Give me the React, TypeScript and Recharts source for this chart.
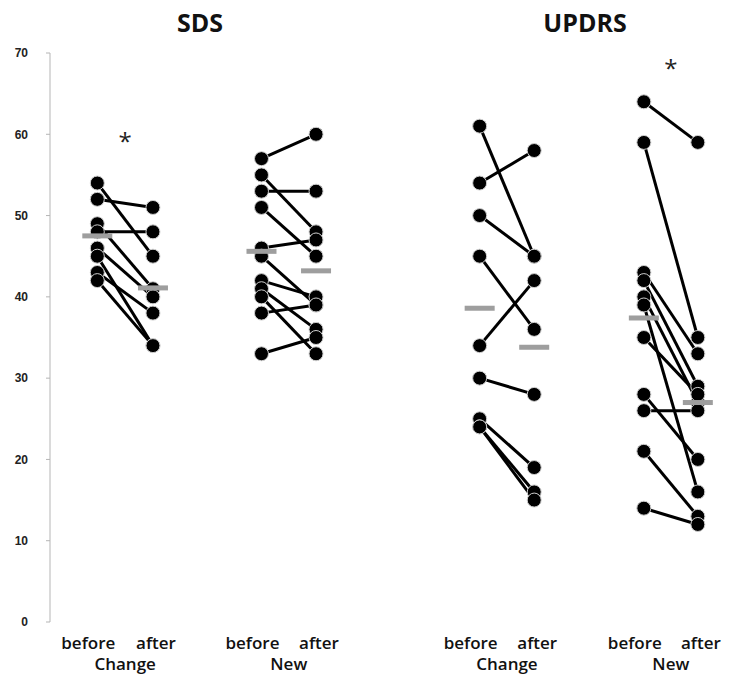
import { ComposedChart, Line, Scatter, XAxis, YAxis } from 'recharts';

// column slots (x axis units) of the before / after points in each group
const BEFORE_X = [0.85, 3.8, 7.72, 10.67];
const AFTER_X = [1.85, 4.78, 8.7, 11.64];
const GROUP_NAMES = ['Change', 'New', 'Change', 'New'];
const Y_TICKS = [0, 10, 20, 30, 40, 50, 60, 70];

const sdsChangeBefore = [54, 52, 49, 48, 46, 45, 43, 42];
const sdsChangeAfter = [45, 51, 41, 48, 40, 34, 38, 34];
const sdsNewBefore = [57, 55, 53, 51, 46, 45, 42, 41, 40, 38, 33];
const sdsNewAfter = [60, 48, 53, 45, 47, 39, 40, 36, 33, 39, 35];
const updrsChangeBefore = [61, 54, 50, 45, 34, 30, 25, 24, 24];
const updrsChangeAfter = [45, 58, 45, 36, 42, 28, 19, 16, 15];
const updrsNewBefore = [64, 59, 43, 42, 40, 39, 35, 28, 26, 21, 14];
const updrsNewAfter = [59, 35, 33, 29, 27, 16, 28, 20, 26, 13, 12];

const meanBefore = [47.5, 45.6, 38.6, 37.4];
const meanAfter = [41.1, 43.2, 33.8, 27.0];

// significant groups and the height of their asterisk
const starGroups = [0, 3];
const starY = [59.7, 68.6];

const groups = [
  { before: sdsChangeBefore, after: sdsChangeAfter },
  { before: sdsNewBefore, after: sdsNewAfter },
  { before: updrsChangeBefore, after: updrsChangeAfter },
  { before: updrsNewBefore, after: updrsNewAfter },
];

const pairs = groups.flatMap((g, gi) =>
  g.before.map((b, i) => [
    { x: BEFORE_X[gi], y: b },
    { x: AFTER_X[gi], y: g.after[i] },
  ])
);

const means = [
  ...meanBefore.map((y, i) => ({ x: BEFORE_X[i], y })),
  ...meanAfter.map((y, i) => ({ x: AFTER_X[i], y })),
];

const stars = starGroups.map((g, i) => ({ x: (BEFORE_X[g] + AFTER_X[g]) / 2, y: starY[i] }));

const groupTicks = BEFORE_X.map((b, i) => (b + AFTER_X[i]) / 2);
const allTicks = [...BEFORE_X, ...AFTER_X, ...groupTicks].sort((a, b) => a - b);

const font = '"Open Sans", sans-serif';

const MeanBar = (props: any) => (
  <rect x={props.cx - 15} y={props.cy - 2.5} width={30} height={5} fill="#9e9e9e" />
);

const Star = (props: any) => (
  <text x={props.cx} y={props.cy + 13} textAnchor="middle" fontSize={24} fontFamily={font} fill="#222">
    *
  </text>
);

// one axis carries both rows: before/after under the points, group name under each pair
const XTick = (props: any) => {
  const v = props.payload.value;
  const gi = groupTicks.indexOf(v);
  let label = GROUP_NAMES[gi];
  let dx = 0;
  let y = props.y + 46;
  if (gi < 0) {
    const isBefore = BEFORE_X.includes(v);
    label = isBefore ? 'before' : 'after';
    dx = isBefore ? -9 : 3;
    y = props.y + 25;
  }
  return (
    <text x={props.x + dx} y={y} textAnchor="middle" fontSize={17} fontWeight={600} fontFamily={font} fill="#111">
      {label}
    </text>
  );
};

const titleStyle = (cx: number): React.CSSProperties => ({
  position: 'absolute',
  top: 10,
  left: cx - 60,
  width: 120,
  textAlign: 'center',
  fontFamily: font,
  fontWeight: 700,
  fontSize: 25,
  lineHeight: '25px',
  color: '#111',
});

export default function App() {
  return (
    <div style={{ position: 'absolute', left: 0, top: 0, width: 729, height: 675, background: '#fff' }}>
      <div style={titleStyle(200)}>SDS</div>
      <div style={titleStyle(585)}>UPDRS</div>
      <ComposedChart width={729} height={675} margin={{ top: 53, right: 0, bottom: 0, left: 0 }}>
        <XAxis
          type="number"
          dataKey="x"
          domain={[0, 12.2]}
          ticks={allTicks}
          axisLine={false}
          tickLine={false}
          tickSize={0}
          height={53}
          interval={0}
          tick={<XTick />}
        />
        <YAxis
          type="number"
          domain={[0, 70]}
          ticks={Y_TICKS}
          width={50}
          axisLine={{ stroke: '#b5b5b5' }}
          tickLine={{ stroke: '#b5b5b5' }}
          tickSize={4}
          tickMargin={18}
          tick={{ fill: '#222', fontSize: 12, fontWeight: 700, fontFamily: '"Liberation Sans", sans-serif' }}
        />
        {pairs.map((d, i) => (
          <Line
            key={i}
            data={d}
            dataKey="y"
            stroke="#000"
            strokeWidth={3}
            dot={{ r: 7, fill: '#000', stroke: '#d0d0d0', strokeWidth: 1 }}
            activeDot={false}
            isAnimationActive={false}
          />
        ))}
        <Scatter data={means} dataKey="y" shape={MeanBar} isAnimationActive={false} />
        <Scatter data={stars} dataKey="y" shape={Star} isAnimationActive={false} />
      </ComposedChart>
    </div>
  );
}
